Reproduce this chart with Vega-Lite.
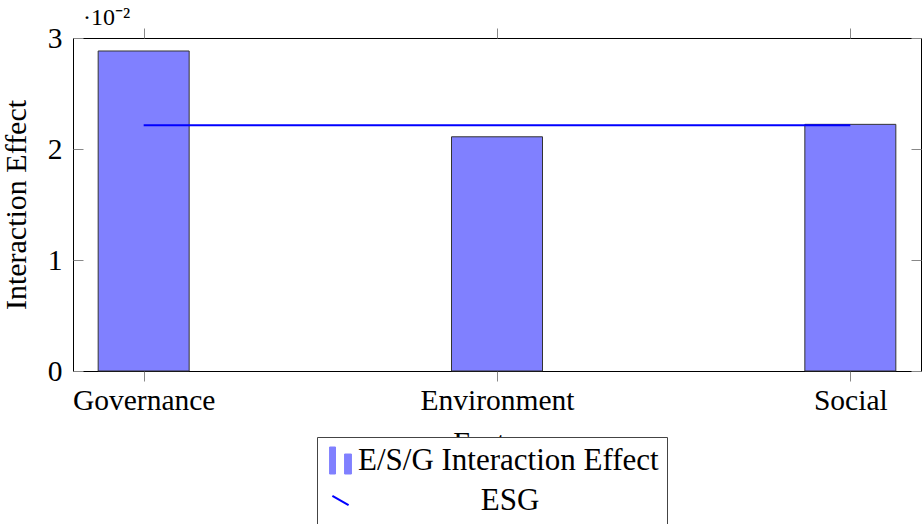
{
  "$schema": "https://vega.github.io/schema/vega-lite/v6.json",
  "autosize": "none",
  "padding": {"left": 73, "top": 38, "right": 1, "bottom": 153},
  "width": 848,
  "height": 333,
  "title": {"text": "·10⁻²", "anchor": "start", "frame": "group", "font": "Liberation Serif", "fontSize": 24, "fontWeight": "normal", "color": "black", "dx": 10, "dy": 7, "offset": 0},
  "datasets": {
    "bars": [
      {"factor": "Governance", "value": 0.02883, "series": "E/S/G Interaction Effect"},
      {"factor": "Environment", "value": 0.0211, "series": "E/S/G Interaction Effect"},
      {"factor": "Social", "value": 0.02222, "series": "E/S/G Interaction Effect"}
    ],
    "esg": [
      {"factor": "Governance", "value": 0.02214, "series": "ESG"},
      {"factor": "Environment", "value": 0.02214, "series": "ESG"},
      {"factor": "Social", "value": 0.02214, "series": "ESG"}
    ]
  },
  "config": {
    "view": {"stroke": "black", "strokeWidth": 1},
    "axis": {"labelFont": "Liberation Serif", "labelFontSize": 29.5, "titleFont": "Liberation Serif", "titleFontSize": 30, "titleFontWeight": "normal", "labelColor": "black", "titleColor": "black", "tickColor": "#888", "tickWidth": 1, "grid": false, "domain": false}
  },
  "layer": [
    {
      "data": {"name": "bars"},
      "mark": {"type": "bar", "size": 91, "stroke": "#333", "strokeWidth": 1, "fillOpacity": 1},
      "encoding": {
        "x": {"field": "factor", "type": "nominal", "sort": ["Governance", "Environment", "Social"],
          "scale": {"type": "point", "padding": 0.2},
          "axis": {"orient": "bottom", "title": "Factors", "labelAngle": 0, "tickSize": 10, "labelPadding": 5, "titlePadding": 13}},
        "y": {"field": "value", "type": "quantitative", "scale": {"domain": [0, 0.03], "nice": false, "zero": true},
          "axis": {"title": "Interaction Effect", "values": [0, 0.01, 0.02, 0.03], "labelExpr": "format(datum.value*100, 'd')", "tickSize": -10, "labelPadding": 21, "titlePadding": 16}},
        "color": {"field": "series", "type": "nominal",
          "scale": {"domain": ["E/S/G Interaction Effect", "ESG"], "range": ["#8080ff", "#0000ff"]},
          "legend": {"orient": "none", "legendX": 244, "legendY": 399, "title": null, "fillColor": "white", "strokeColor": "#444", "padding": 8,
            "labelFont": "Liberation Serif", "labelFontSize": 31, "labelColor": "black", "symbolSize": 729, "rowPadding": 8, "labelOffset": 2, "labelLimit": 0,
            "encoding": {
              "symbols": {
                "shape": {"value": {"expr": "datum.value === 'ESG' ? 'M-0.6,-0.35L0.6,0.35' : 'M-0.81,-1H-0.37V1H-0.81Z M0.3,-0.48H0.81V1H0.3Z'"}},
                "fill": {"value": {"expr": "datum.value === 'ESG' ? 'transparent' : '#8080ff'"}},
                "stroke": {"value": {"expr": "datum.value === 'ESG' ? '#0000ff' : '#333'"}},
                "strokeWidth": {"value": {"expr": "datum.value === 'ESG' ? 2 : 1"}},
                "opacity": {"value": 1}
              },
              "labels": {
                "align": {"value": {"expr": "datum.value === 'ESG' ? 'center' : 'left'"}},
                "dx": {"value": {"expr": "datum.value === 'ESG' ? 152 : 0"}}
              }
            }}}
      }
    },
    {
      "data": {"name": "esg"},
      "mark": {"type": "line", "strokeWidth": 2},
      "encoding": {
        "x": {"field": "factor", "type": "nominal", "sort": ["Governance", "Environment", "Social"],
          "axis": {"orient": "top", "title": null, "labels": false, "tickSize": 10}},
        "y": {"field": "value", "type": "quantitative",
          "axis": {"orient": "right", "title": null, "labels": false, "values": [0, 0.01, 0.02, 0.03], "tickSize": -10}},
        "color": {"field": "series", "type": "nominal"}
      }
    }
  ],
  "resolve": {"axis": {"x": "independent", "y": "independent"}}
}
